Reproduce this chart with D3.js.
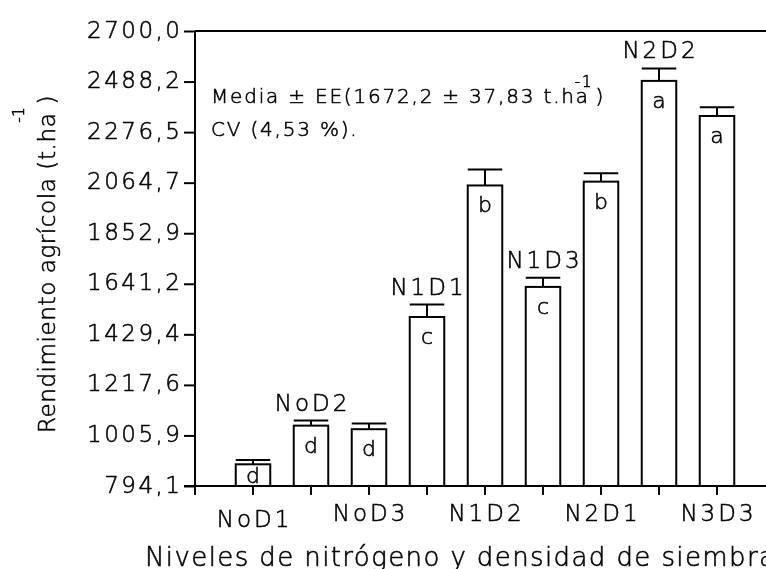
<!DOCTYPE html>
<html><head><meta charset="utf-8">
<script src="https://cdn.jsdelivr.net/npm/d3@7"></script>
<style>
html,body{margin:0;padding:0;background:#fff;}
svg{display:block;will-change:transform;}
text{font-family:"DejaVu Sans",sans-serif;font-weight:200;fill:#000;stroke:#000;stroke-width:0.55px;}
</style></head><body>
<svg id="chart" width="766" height="569"></svg>
<script>
const categories = ["NoD1","NoD2","NoD3","N1D1","N1D2","N1D3","N2D1","N2D2","N3D3"];
const means = [885, 1047, 1032, 1502, 2053, 1628, 2069, 2491, 2344];
const errors = [18, 21, 24, 52, 67, 38, 35, 52, 37];
const groupLetters = ["d","d","d","c","b","c","b","a","a"];
const yTickLabels = ["794,1","1005,9","1217,6","1429,4","1641,2","1852,9","2064,7","2276,5","2488,2","2700,0"];
const yTitle = "Rendimiento agrícola (t.ha";
const unitSup = "-1";
const xTitle = "Niveles de nitrógeno y densidad de siembra";
const statLine1 = "Media ± EE(1672,2 ± 37,83 t.ha";
const statLine2 = "CV (4,53 %).";

const yTickValues = yTickLabels.map(s => +s.replace(",", "."));
const data = categories.map((c, i) => ({c, i, m: means[i], e: errors[i], g: groupLetters[i]}));

const svg = d3.select("#chart");
const axisX = 195, plotTop = 31, plotBottom = 486, rightEdge = 766;

const x = d3.scaleBand().domain(categories).range([224, 746])
  .paddingInner(0.405).paddingOuter(0.2025);
const y = d3.scaleLinear().domain([yTickValues[0], yTickValues[yTickValues.length - 1]])
  .range([plotBottom, plotTop]);

// Y axis
const yAxis = d3.axisLeft(y).tickValues(yTickValues)
  .tickFormat((d, i) => yTickLabels[i]).tickSize(11).tickSizeOuter(0).tickPadding(1.5);
const gy = svg.append("g").attr("transform", `translate(${axisX},0)`).call(yAxis);
gy.select(".domain").remove();
gy.selectAll(".tick line").attr("stroke", "#000").attr("stroke-width", 2);
gy.selectAll(".tick text").attr("font-family", "DejaVu Sans").attr("font-size", 23)
  .style("letter-spacing", "2.5px").attr("dy", 6).attr("fill", "#000");
gy.attr("font-family", null).attr("font-size", null);

// X axis ticks
const xAxis = d3.axisBottom(x).tickSize(9).tickSizeOuter(0).tickFormat("");
const gx = svg.append("g").attr("transform", `translate(0,${plotBottom})`).call(xAxis);
gx.select(".domain").remove();
gx.selectAll(".tick line").attr("stroke", "#000").attr("stroke-width", 2);

// frame lines
const frame = svg.append("g").attr("stroke", "#000").attr("stroke-width", 2);
frame.append("line").attr("x1", axisX).attr("x2", axisX).attr("y1", plotTop).attr("y2", plotBottom + 9);
frame.append("line").attr("x1", axisX - 11).attr("x2", rightEdge).attr("y1", plotBottom).attr("y2", plotBottom);
frame.append("line").attr("x1", axisX).attr("x2", rightEdge).attr("y1", plotTop).attr("y2", plotTop);

// Bars
const bw = x.bandwidth();
const bars = svg.append("g");
bars.selectAll("rect").data(data).join("rect")
  .attr("x", d => x(d.c)).attr("y", d => y(d.m))
  .attr("width", bw).attr("height", d => y.range()[0] - y(d.m))
  .attr("fill", "#fff").attr("stroke", "#000").attr("stroke-width", 2);

// Error bars
const eb = svg.append("g").attr("stroke", "#000").attr("stroke-width", 2);
eb.selectAll("line.v").data(data).join("line").attr("class", "v")
  .attr("x1", d => x(d.c) + bw / 2).attr("x2", d => x(d.c) + bw / 2)
  .attr("y1", d => y(d.m)).attr("y2", d => y(d.m + d.e));
eb.selectAll("line.cap").data(data).join("line").attr("class", "cap")
  .attr("x1", d => x(d.c)).attr("x2", d => x(d.c) + bw)
  .attr("y1", d => y(d.m + d.e)).attr("y2", d => y(d.m + d.e));

// Group letters
svg.append("g").selectAll("text").data(data).join("text")
  .attr("x", d => x(d.c) + bw / 2)
  .attr("y", d => Math.min(y(d.m) + 27, plotBottom - 3))
  .attr("text-anchor", "middle").attr("font-size", 22)
  .text(d => d.g);

// Category labels (alternating: below axis / above bar)
svg.append("g").selectAll("text").data(data).join("text")
  .attr("x", d => x(d.c) + bw / 2).attr("dx", 1.5)
  .attr("y", d => d.i % 2 === 0 ? (d.i === 0 ? 527 : 521) : y(d.m + d.e) - 10)
  .attr("text-anchor", "middle").attr("font-size", 23)
  .style("letter-spacing", "3px")
  .text(d => d.c);

// Y title
const yt = svg.append("text")
  .attr("transform", "translate(55,264) rotate(-90)")
  .attr("text-anchor", "middle").attr("font-size", 23)
  .style("letter-spacing", "0.6px");
yt.append("tspan").text(yTitle);
yt.append("tspan").attr("font-size", 15).attr("dy", -31).attr("dx", -10).text(unitSup);
yt.append("tspan").attr("dy", 31).attr("dx", 2).text(")");

// X title
svg.append("text").attr("x", 145).attr("y", 566).attr("font-size", 26)
  .style("letter-spacing", "1.4px").text(xTitle);

// Stats annotation
const st = svg.append("text").attr("x", 211).attr("y", 103).attr("font-size", 20)
  .style("letter-spacing", "1.8px");
st.append("tspan").text(statLine1);
st.append("tspan").attr("font-size", 15).attr("dy", -16).attr("dx", -15).text(unitSup);
st.append("tspan").attr("dy", 16).attr("dx", 2).text(")");
svg.append("text").attr("x", 211).attr("y", 136).attr("font-size", 20)
  .style("letter-spacing", "1.8px").text(statLine2);
</script>
</body></html>
